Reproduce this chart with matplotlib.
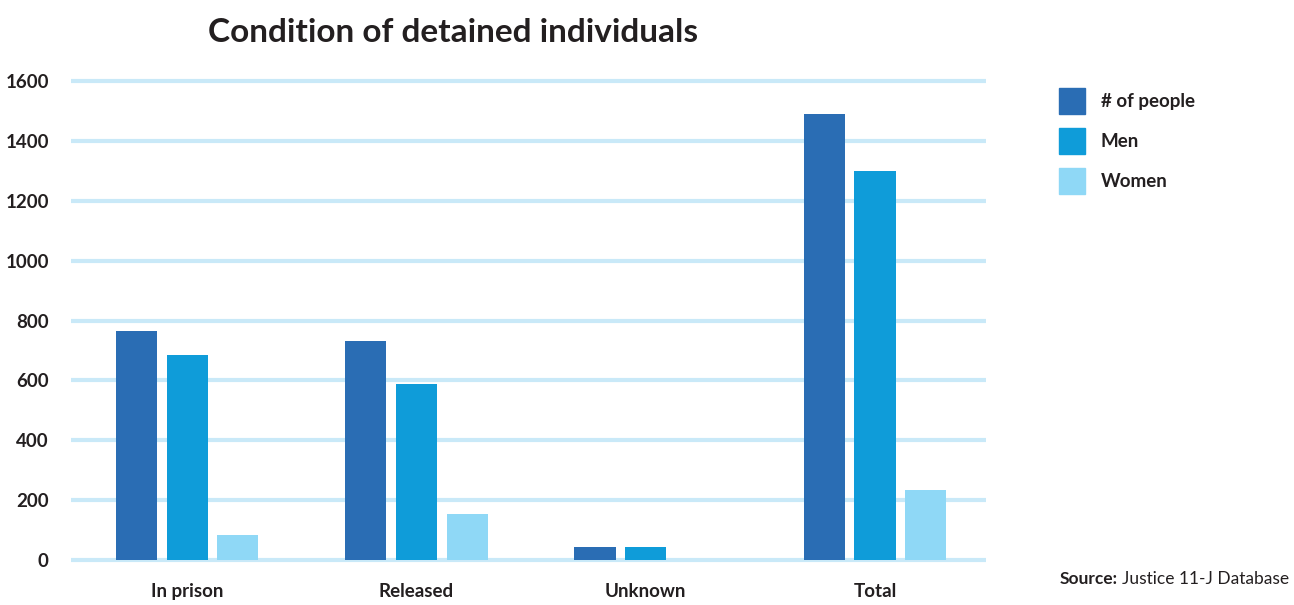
import matplotlib
matplotlib.use("Agg")
import matplotlib.pyplot as plt
import matplotlib.patches as patches
import numpy as np

# values per condition
categories = ["In prison", "Released", "Unknown", "Total"]
people = [765, 731, 43, 1490]
men = [685, 588, 43, 1299]
women = [83, 154, 0, 234]

series_labels = ["# of people", "Men", "Women"]
colors = ["#2a6db4", "#0f9cd9", "#8fd8f6"]
yticks = [0, 200, 400, 600, 800, 1000, 1200, 1400, 1600]

plt.rcParams["font.family"] = ["Lato", "DejaVu Sans"]

W, H = 1294, 605
fig = plt.figure(figsize=(W / 100, H / 100), dpi=100)

# axes placed in pixel terms: x grid 71..986, y 0 at 560, 1600 at 81
px_per_unit = (560 - 81) / 1600.0
ylo, yhi = -12, 1612
ax_bottom = 560 + (0 - ylo) * px_per_unit
ax_h = (yhi - ylo) * px_per_unit
ax = fig.add_axes([71 / W, (H - ax_bottom) / H, (986 - 71) / W, ax_h / H])

x = np.arange(len(categories))
width = 0.179
step = 0.221
for i, (vals, c) in enumerate(zip([people, men, women], colors)):
    ax.bar(x + (i - 1) * step, vals, width=width, color=c, zorder=3)

ax.set_xlim(-0.506, 3.484)
ax.set_ylim(ylo, yhi)
ax.set_yticks(yticks)
for v in yticks:
    ax.axhline(v, color="#c9e9f8", lw=3, zorder=1)

for s in ax.spines.values():
    s.set_visible(False)
ax.tick_params(axis="both", length=0)
ax.set_yticklabels([str(v) for v in yticks], fontsize=13.5, fontweight="bold",
                   color="#231f20")
ax.tick_params(axis="y", pad=16)
ax.set_xticks(x)
ax.set_xticklabels(categories, fontsize=13.5, fontweight="bold", color="#231f20")
ax.tick_params(axis="x", pad=14)

fig.text(453 / W, 1 - 32 / H, "Condition of detained individuals", fontsize=24,
         fontweight="bold", color="#231f20", ha="center", va="center")

# legend drawn as squares plus labels
for i, (lab, c) in enumerate(zip(series_labels, colors)):
    yc = 101 + 40 * i
    fig.patches.append(patches.Rectangle((1059 / W, 1 - (yc + 13) / H), 26 / W, 26 / H,
                                         transform=fig.transFigure, color=c))
    fig.text(1101 / W, 1 - yc / H, lab, fontsize=13.5, fontweight="bold",
             color="#231f20", ha="left", va="center")

t = fig.text(1060 / W, 1 - 579 / H, "Source:", fontsize=12.5, fontweight="bold",
             color="#231f20", ha="left", va="center")
fig.canvas.draw()
bb = t.get_window_extent()
fig.text((bb.x1 + 4) / W, 1 - 579 / H, "Justice 11-J Database", fontsize=12.5,
         color="#231f20", ha="left", va="center")

fig.savefig("out.png", dpi=100)
